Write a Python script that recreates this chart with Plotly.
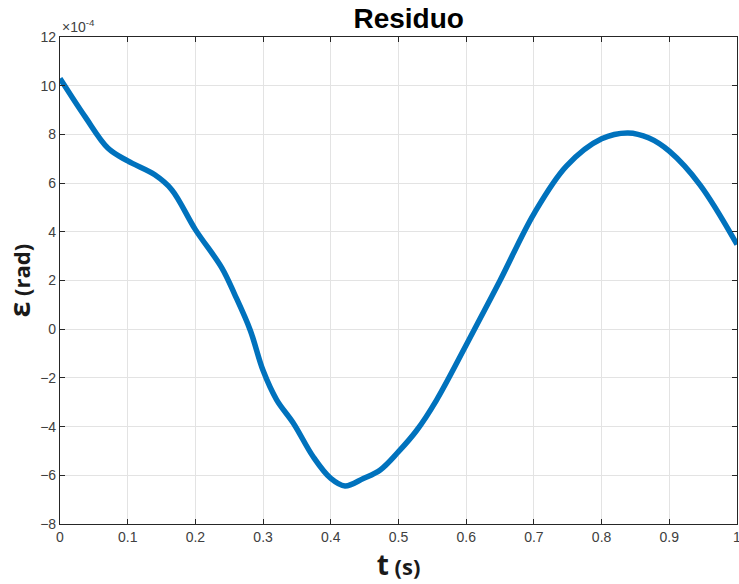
import plotly.graph_objects as go

t_values = [0.0, 0.037, 0.071, 0.10, 0.14, 0.165, 0.20, 0.239, 0.258, 0.281, 0.30,
            0.32, 0.345, 0.374, 0.40, 0.421, 0.448, 0.473, 0.50, 0.527, 0.556,
            0.60, 0.65, 0.70, 0.748, 0.80, 0.839, 0.87, 0.90, 0.945, 1.0]
residuo_e4 = [10.3, 8.73, 7.43, 6.91, 6.34, 5.73, 4.09, 2.52, 1.43, -0.04, -1.7,
              -2.9, -3.87, -5.24, -6.13, -6.44, -6.13, -5.78, -5.03, -4.15, -2.92,
              -0.65, 2.0, 4.74, 6.7, 7.82, 8.06, 7.85, 7.31, 5.94, 3.48]

x_ticks = [0, 0.1, 0.2, 0.3, 0.4, 0.5, 0.6, 0.7, 0.8, 0.9, 1]
x_tick_labels = ["0", "0.1", "0.2", "0.3", "0.4", "0.5", "0.6", "0.7", "0.8", "0.9", "1"]
y_ticks = [-8, -6, -4, -2, 0, 2, 4, 6, 8, 10, 12]

fig = go.Figure()
fig.add_trace(go.Scatter(
    x=t_values, y=residuo_e4, mode="lines",
    line=dict(color="#0072BD", width=5.5, shape="spline", smoothing=1.0),
    showlegend=False, cliponaxis=False,
))

axis_common = dict(
    showline=True, linecolor="#262626", linewidth=1.2, mirror="ticks",
    ticks="inside", ticklen=5, tickcolor="#262626",
    showgrid=True, gridcolor="#e3e3e3", gridwidth=1, zeroline=False,
    tickfont=dict(family="Liberation Sans, Arial", size=14, color="#404040"),
    automargin=False, ticklabeloverflow="allow",
)

fig.update_xaxes(range=[0, 1], tickvals=x_ticks, ticktext=x_tick_labels,
                 title=dict(text="<b><span style='font-size:28px'>t</span><span style='font-size:22px'> (s)</span></b>",
                            font=dict(family="Open Sans, Liberation Sans", color="#1a1a1a"), standoff=6),
                 **axis_common)
fig.update_yaxes(range=[-8, 12], tickvals=y_ticks,
                 title=dict(text="<b><span style='font-size:28px'>ε</span><span style='font-size:22px'> (rad)</span></b>",
                            font=dict(family="Open Sans, Liberation Sans", color="#1a1a1a"), standoff=12),
                 **axis_common)

fig.update_layout(
    width=739, height=584,
    margin=dict(l=60, r=2, t=37, b=60, autoexpand=False),
    plot_bgcolor="white", paper_bgcolor="white",
    title=dict(text="<b>Residuo</b>", x=0.553, xanchor="center", y=0.968, yanchor="middle",
               font=dict(family="Liberation Sans, Arial", size=28, color="#000000")),
    annotations=[dict(text="×10<sup>-4</sup>", xref="paper", yref="paper", x=0, y=1,
                      xanchor="left", yanchor="bottom", showarrow=False, yshift=0,
                      font=dict(family="Liberation Sans, Arial", size=14, color="#404040"))],
)

fig.write_html("out.html", config={"displayModeBar": False},
               post_script="document.body.style.margin='0';document.body.style.overflow='hidden';")
